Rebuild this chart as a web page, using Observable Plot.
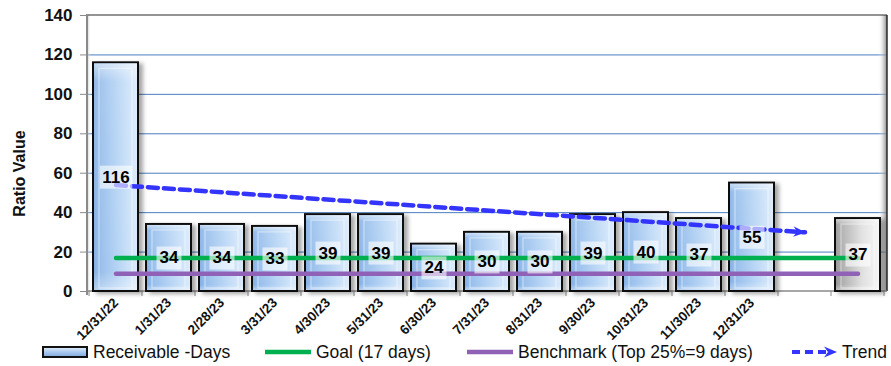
<!DOCTYPE html>
<html>
<head>
<meta charset="utf-8">
<script src="https://cdn.jsdelivr.net/npm/d3@7"></script>
<script src="https://cdn.jsdelivr.net/npm/@observablehq/plot@0.6"></script>
<style>
  body { margin: 0; background: #fff; font-family: Arial, "Liberation Sans", sans-serif; }
  #chart svg { display: block; overflow: visible; }
  #legend { position: relative; width: 891px; height: 28px; font-size: 17.5px; color: #111; }
  #legend .item { position: absolute; top: 0; height: 28px; display: flex; align-items: center; white-space: nowrap; }
  #legend svg { display: block; margin-right: 4px; }
</style>
</head>
<body>
<div id="chart"></div>
<div id="legend"></div>
<script>
// Month-end periods; the last two slots carry no label
const periods = ["12/31/22", "1/31/23", "2/28/23", "3/31/23", "4/30/23", "5/31/23", "6/30/23",
  "7/31/23", "8/31/23", "9/30/23", "10/31/23", "11/30/23", "12/31/23", "", " "];
// Receivable days per period (null = empty slot)
const receivableDays = [116, 34, 34, 33, 39, 39, 24, 30, 30, 39, 40, 37, 55, null, 37];
// Slot index drawn in grey
const greyIndex = 14;
const goalDays = 17;
const benchmarkDays = 9;
// Trend arrow endpoints
const trendPeriods = ["12/31/22", ""];
const trendValues = [54, 30];
const yTicks = [0, 20, 40, 60, 80, 100, 120, 140];

const bars = periods
  .map((period, i) => ({period, value: receivableDays[i], grey: i === greyIndex}))
  .filter((d) => d.value != null);
const blueBars = bars.filter((d) => !d.grey);
const greyBars = bars.filter((d) => d.grey);
const goalLine = periods.map((period) => ({period, value: goalDays}));
const benchLine = periods.map((period) => ({period, value: benchmarkDays}));
const trend = trendPeriods.map((period, i) => ({period, value: trendValues[i]}));

const defs = () => d3.create("svg:defs").html(`
  <linearGradient id="barBlue" x1="0" x2="1" y1="0" y2="0">
    <stop offset="0" stop-color="#7aa8e0"/>
    <stop offset="0.12" stop-color="#8fb9ea"/>
    <stop offset="0.6" stop-color="#b7d5f5"/>
    <stop offset="1" stop-color="#dcebfb"/>
  </linearGradient>
  <linearGradient id="barGrey" x1="0" x2="1" y1="0" y2="0">
    <stop offset="0" stop-color="#8c8c8c"/>
    <stop offset="0.15" stop-color="#a8a8a8"/>
    <stop offset="0.6" stop-color="#dedede"/>
    <stop offset="1" stop-color="#f7f7f7"/>
  </linearGradient>
  <linearGradient id="barGloss" x1="0" x2="0" y1="0" y2="1">
    <stop offset="0" stop-color="#fff" stop-opacity="0.55"/>
    <stop offset="0.08" stop-color="#fff" stop-opacity="0.15"/>
    <stop offset="0.92" stop-color="#fff" stop-opacity="0.05"/>
    <stop offset="1" stop-color="#fff" stop-opacity="0.4"/>
  </linearGradient>
  <linearGradient id="wallRight" x1="0" x2="1" y1="0" y2="0">
    <stop offset="0" stop-color="#fff" stop-opacity="0"/>
    <stop offset="1" stop-color="#777" stop-opacity="0.9"/>
  </linearGradient>
  <linearGradient id="wallLeft" x1="0" x2="1" y1="0" y2="0">
    <stop offset="0" stop-color="#999" stop-opacity="0.9"/>
    <stop offset="1" stop-color="#fff" stop-opacity="0"/>
  </linearGradient>
  <filter id="barShadow" x="-20%" y="-10%" width="150%" height="130%">
    <feDropShadow dx="4" dy="2" stdDeviation="2.2" flood-color="#000" flood-opacity="0.35"/>
  </filter>
  <marker id="trendArrow" viewBox="0 0 12 10" refX="11" refY="5" markerWidth="13" markerHeight="11"
          markerUnits="userSpaceOnUse" orient="auto">
    <path d="M0,0 L12,5 L0,10 L4,5 Z" fill="#3434ff"/>
  </marker>`).node();

// Plot-area walls: shaded left/right sides, dark top and right edges
const frameDecor = (index, scales, values, {width, height, marginLeft, marginRight, marginTop, marginBottom}) => {
  const g = d3.create("svg:g");
  const x0 = marginLeft, x1 = width - marginRight, y0 = marginTop, y1 = height - marginBottom;
  g.append("rect").attr("x", x0).attr("y", y0).attr("width", 5).attr("height", y1 - y0).attr("fill", "url(#wallLeft)");
  g.append("rect").attr("x", x1 - 9).attr("y", y0).attr("width", 9).attr("height", y1 - y0).attr("fill", "url(#wallRight)");
  g.append("line").attr("x1", x0).attr("x2", x1).attr("y1", y0).attr("y2", y0).attr("stroke", "#2b2b2b").attr("stroke-width", 1.2);
  g.append("line").attr("x1", x1).attr("x2", x1).attr("y1", y0).attr("y2", y1).attr("stroke", "#2b2b2b").attr("stroke-width", 1.5);
  g.append("line").attr("x1", x0 + 1).attr("x2", x0 + 1).attr("y1", y0).attr("y2", y1 + 4).attr("stroke", "#8a8a8a").attr("stroke-width", 2);
  g.append("line").attr("x1", x0).attr("x2", x1).attr("y1", y1).attr("y2", y1).attr("stroke", "#8a8a8a").attr("stroke-width", 1.5);
  return g.node();
};

// Category ticks sit on the boundaries between slots
const boundaryTicks = (index, {x}, values, {height, marginBottom}) => {
  const g = d3.create("svg:g").attr("stroke", "#8a8a8a").attr("stroke-width", 1);
  const gap = (x.step() - x.bandwidth()) / 2;
  const y = height - marginBottom;
  const edges = periods.map((p) => x(p) - gap).concat(x(periods[periods.length - 1]) + x.bandwidth() + gap);
  for (const e of edges) g.append("line").attr("x1", e).attr("x2", e).attr("y1", y).attr("y2", y + 5);
  return g.node();
};

const withShadow = (index, scales, values, dimensions, context, next) => {
  const g = next(index, scales, values, dimensions, context);
  g.setAttribute("filter", "url(#barShadow)");
  return g;
};

// Value labels on translucent white boxes
const labelFont = '"Liberation Sans Narrow", "Arial Narrow", Arial, sans-serif';
const boxedLabels = (index, scales, values, dimensions, context, next) => {
  const g = next(index, scales, values, dimensions, context);
  const ns = "http://www.w3.org/2000/svg";
  const boxes = document.createElementNS(ns, "g");
  for (const i of index) {
    const w = values.text[i].length * 7.5 + 10;
    const r = document.createElementNS(ns, "rect");
    r.setAttribute("x", values.x[i] - w / 2);
    r.setAttribute("y", values.y[i] - 11.5);
    r.setAttribute("width", w);
    r.setAttribute("height", 23);
    r.setAttribute("fill", "#fff");
    r.setAttribute("fill-opacity", 0.6);
    r.setAttribute("stroke", "none");
    boxes.appendChild(r);
  }
  g.insertBefore(boxes, g.firstChild);
  return g;
};

const trendRender = (index, scales, values, dimensions, context, next) => {
  const g = next(index, scales, values, dimensions, context);
  g.querySelectorAll("path").forEach((p) => p.setAttribute("marker-end", "url(#trendArrow)"));
  return g;
};

const chart = Plot.plot({
  width: 891,
  height: 338,
  marginTop: 15,
  marginBottom: 47,
  marginLeft: 86,
  marginRight: 4,
  style: {fontFamily: "Arial, 'Liberation Sans', sans-serif", background: "#fff", overflow: "visible"},
  x: {domain: periods, paddingInner: 0.16, paddingOuter: 0.08, label: null},
  y: {domain: [0, 140], ticks: yTicks, label: null},
  marks: [
    defs,
    Plot.gridY(yTicks.filter((t) => t > 0 && t < 140), {stroke: "#4a7ebf", strokeOpacity: 1, strokeWidth: 1}),
    frameDecor,
    Plot.axisY(yTicks, {tickSize: 6, tickPadding: 8, fontSize: 17, fontWeight: "bold", stroke: "#8a8a8a", fill: "#111", label: null}),
    Plot.text(["Ratio Value"], {frameAnchor: "left", textAnchor: "middle", dx: -67, dy: 20, rotate: -90, fontSize: 16, fontWeight: "bold", fill: "#111"}),
    Plot.axisX({tickSize: 0, tickPadding: 9, tickRotate: -45, fontSize: 13.5, fontWeight: "bold", fill: "#111", label: null}),
    boundaryTicks,
    Plot.barY(blueBars, {x: "period", y: "value", fill: "url(#barBlue)", stroke: "#111", strokeWidth: 2, render: withShadow}),
    Plot.barY(greyBars, {x: "period", y: "value", fill: "url(#barGrey)", stroke: "#111", strokeWidth: 2, render: withShadow}),
    Plot.barY(bars, {x: "period", y: "value", fill: "url(#barGloss)", inset: 1}),
    Plot.barY(bars, {x: "period", y: "value", fill: "none", stroke: "#fff", strokeOpacity: 0.45, strokeWidth: 1.2, insetLeft: 6, insetRight: 6, insetTop: 6, insetBottom: 3}),
    Plot.lineY(benchLine, {x: "period", y: "value", stroke: "#8f62b8", strokeWidth: 4.5}),
    Plot.lineY(goalLine, {x: "period", y: "value", stroke: "#00b04f", strokeWidth: 4.5}),
    Plot.line(trend, {x: "period", y: "value", stroke: "#3434ff", strokeWidth: 4.5, strokeDasharray: "10,6", render: trendRender}),
    Plot.text(bars, {x: "period", y: (d) => d.value / 2, text: (d) => String(d.value), fontSize: 17, fontWeight: "bold", fill: "#000", fontFamily: labelFont, render: boxedLabels})
  ]
});
document.getElementById("chart").appendChild(chart);

// Legend below the chart
const legendItems = [
  {left: 42, label: "Receivable -Days", swatch: `<rect x="1" y="1" width="44" height="10" fill="url(#lgBlue)" stroke="#111" stroke-width="2"/>
     <defs><linearGradient id="lgBlue" x1="0" x2="0" y1="0" y2="1"><stop offset="0" stop-color="#e6f0fb"/><stop offset="0.5" stop-color="#a9c8ee"/><stop offset="1" stop-color="#7fa6d8"/></linearGradient></defs>`, h: 12},
  {left: 265, label: "Goal (17 days)", swatch: `<line x1="0" x2="46" y1="6" y2="6" stroke="#00b04f" stroke-width="4.5"/>`, h: 12},
  {left: 467, label: "Benchmark (Top 25%=9 days)", swatch: `<line x1="0" x2="46" y1="6" y2="6" stroke="#8f62b8" stroke-width="4.5"/>`, h: 12},
  {left: 791, label: "Trend", swatch: `<line x1="1" x2="36" y1="6" y2="6" stroke="#3434ff" stroke-width="4" stroke-dasharray="8,5"/><path d="M33,0.5 L46,6 L33,11.5 L37,6 Z" fill="#3434ff"/>`, h: 12}
];
const legend = d3.select("#legend");
for (const item of legendItems) {
  const div = legend.append("div").attr("class", "item").style("left", item.left + "px");
  div.append("svg").attr("width", 47).attr("height", item.h).html(item.swatch);
  div.append("span").text(item.label);
}
</script>
</body>
</html>
